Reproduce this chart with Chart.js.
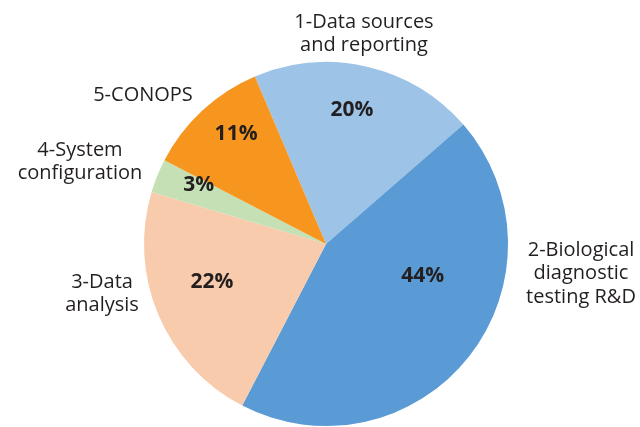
<!DOCTYPE html>
<html>
<head>
<meta charset="utf-8">
<script src="https://cdn.jsdelivr.net/npm/chart.js@4"></script>
<style>
  html, body { margin: 0; padding: 0; background: #fff; }
  #wrap { width: 640px; height: 427px; }
</style>
</head>
<body>
<div id="wrap"><canvas id="chartPie"></canvas></div>
<script>
// Fatias do gráfico, em ordem horária a partir do topo
const categorias = [
    ['1-Data sources', 'and reporting'],
    ['2-Biological', 'diagnostic', 'testing R&D'],
    ['3-Data', 'analysis'],
    ['4-System', 'configuration'],
    ['5-CONOPS']
];
const valores = [20, 44, 22, 3, 11];
const rotulosPct = ['20%', '44%', '22%', '3%', '11%'];
const cores = ['#9dc3e6', '#5b9bd5', '#f8cbad', '#c5e0b4', '#f7961e'];

// posição dos rótulos (estilo): centro do texto
const posNomes = [[364, 22], [581, 250], [102, 282], [80, 150], [143, 95]];
// rótulo de % : deslocamento angular (graus) e fração do raio
const posPct = [[-2, 0.75], [-20, 0.56], [4.6, 0.66], [2.7, 0.77], [3.5, 0.78]];

const rotulos = {
    id: 'rotulos',
    afterDatasetsDraw(chart) {
        const ctx = chart.ctx;
        const arcs = chart.getDatasetMeta(0).data;
        ctx.save();
        ctx.fillStyle = '#231f20';
        ctx.textAlign = 'center';
        ctx.textBaseline = 'middle';

        ctx.font = 'bold 21px "Open Sans"';
        arcs.forEach(function (arc, i) {
            const p = arc.getProps(['x', 'y', 'startAngle', 'endAngle', 'outerRadius'], true);
            const ang = (p.startAngle + p.endAngle) / 2 + posPct[i][0] * Math.PI / 180;
            const r = p.outerRadius * posPct[i][1];
            ctx.fillText(rotulosPct[i], p.x + Math.cos(ang) * r, p.y + Math.sin(ang) * r);
        });

        ctx.font = '20px "Open Sans"';
        categorias.forEach(function (linhas, i) {
            linhas.forEach(function (txt, j) {
                ctx.fillText(txt, posNomes[i][0], posNomes[i][1] + j * 23.5);
            });
        });
        ctx.restore();
    }
};

new Chart(document.getElementById('chartPie'), {
    type: 'pie',
    data: {
        labels: categorias.map(l => l.join(' ')),
        datasets: [{
            data: valores,
            backgroundColor: cores,
            borderWidth: 0
        }]
    },
    options: {
        responsive: true,
        maintainAspectRatio: false,
        animation: false,
        rotation: -23,
        layout: {
            padding: { top: 62, bottom: 1, left: 143, right: 131 }
        },
        plugins: {
            legend: { display: false },
            tooltip: { enabled: false }
        }
    },
    plugins: [rotulos]
});
</script>
</body>
</html>
